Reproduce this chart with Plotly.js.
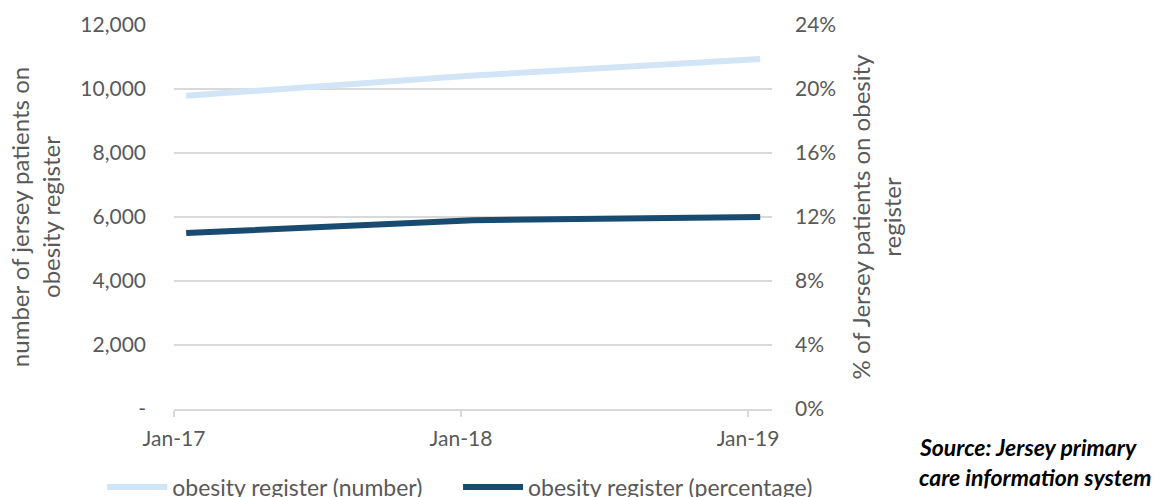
<!DOCTYPE html>
<html>
<head>
<meta charset="utf-8">
<script src="https://cdn.plot.ly/plotly-3.0.1.min.js"></script>
<style>
html,body{margin:0;padding:0;background:#fff;}
#chart{width:1161px;height:497px;}
</style>
</head>
<body>
<div id="chart"></div>
<script>
// Data
const months = ['2017-01', '2018-01', '2019-01'];
const registerNumber = [9790, 10420, 10940];
const registerPercentage = [0.110, 0.118, 0.120];
const xTickVals = ['2017-01-01', '2018-01-01', '2019-01-01'];
const xTickText = ['Jan-17', 'Jan-18', 'Jan-19'];
const leftTickVals = [0, 2000, 4000, 6000, 8000, 10000, 12000];
const leftTickText = ['-', '2,000', '4,000', '6,000', '8,000', '10,000', '12,000'];
const rightTickVals = [0, 0.04, 0.08, 0.12, 0.16, 0.20, 0.24];
const rightTickText = ['0%', '4%', '8%', '12%', '16%', '20%', '24%'];
const seriesNames = ['obesity register (number)', 'obesity register (percentage)'];
const sourceLines = ['Source: Jersey primary', 'care information system'];

const FONT = 'Lato, "Open Sans", sans-serif';
const GREY = '#595959';
const GRID = '#D9D9D9';

const traces = [
  {
    x: months, y: registerNumber, name: seriesNames[0],
    type: 'scatter', mode: 'lines', xperiod: 'M1', xperiodalignment: 'middle',
    line: {color: '#D2E5F6', width: 6}, yaxis: 'y', legend: 'legend'
  },
  {
    x: months, y: registerPercentage, name: seriesNames[1],
    type: 'scatter', mode: 'lines', xperiod: 'M1', xperiodalignment: 'middle',
    line: {color: '#184B6F', width: 6}, yaxis: 'y2', legend: 'legend2'
  }
];

const legendBase = {
  orientation: 'h', xanchor: 'left', y: -0.203, yanchor: 'middle',
  itemwidth: 60,
  font: {family: FONT, size: 23, color: GREY}, bgcolor: 'rgba(0,0,0,0)'
};

const layout = {
  width: 1161, height: 497,
  margin: {l: 174, r: 389, t: 25, b: 87.5, pad: 0, autoexpand: false},
  paper_bgcolor: '#fff', plot_bgcolor: '#fff',
  font: {family: FONT, size: 20, color: GREY},
  showlegend: true,
  legend: Object.assign({}, legendBase, {x: -0.12}),
  legend2: Object.assign({}, legendBase, {x: 0.475}),
  xaxis: {
    type: 'date', range: ['2017-01-01', '2019-01-31 12:00'],
    tickvals: xTickVals, ticktext: xTickText,
    ticks: 'outside', ticklen: 6, tickcolor: GRID, tickwidth: 1.5,
    showline: true, linecolor: GRID, linewidth: 1.5,
    showgrid: false, zeroline: false, ticklabelstandoff: 4,
    tickfont: {family: FONT, size: 21, color: GREY}
  },
  yaxis: {
    range: [0, 12000], tickvals: leftTickVals, ticktext: leftTickText,
    showgrid: true, gridcolor: GRID, gridwidth: 1.5, zeroline: false,
    ticks: '', ticklabelstandoff: 27,
    tickfont: {family: FONT, size: 21, color: GREY},
    title: {text: 'number of jersey patients on<br>obesity register', standoff: 12,
            font: {family: FONT, size: 24, color: GREY}}
  },
  yaxis2: {
    range: [0, 0.24], tickvals: rightTickVals, ticktext: rightTickText,
    overlaying: 'y', side: 'right', showgrid: false, zeroline: false,
    ticks: '', ticklabelstandoff: 22,
    tickfont: {family: FONT, size: 21, color: GREY},
    title: {text: '% of Jersey patients on obesity<br>register', standoff: 17,
            font: {family: FONT, size: 24, color: GREY}}
  },
  annotations: [
    {text: '<b><i>' + sourceLines[0] + '</i></b>', xref: 'paper', yref: 'paper',
     x: 1.2425, y: -0.100, xanchor: 'left', yanchor: 'middle', showarrow: false,
     align: 'left', font: {family: FONT, size: 23, color: '#000'}},
    {text: '<b><i>' + sourceLines[1] + '</i></b>', xref: 'paper', yref: 'paper',
     x: 1.2425, y: -0.178, xanchor: 'left', yanchor: 'middle', showarrow: false,
     align: 'left', font: {family: FONT, size: 23, color: '#000'}}
  ]
};

Plotly.newPlot('chart', traces, layout, {displayModeBar: false, staticPlot: true});
</script>
</body>
</html>
